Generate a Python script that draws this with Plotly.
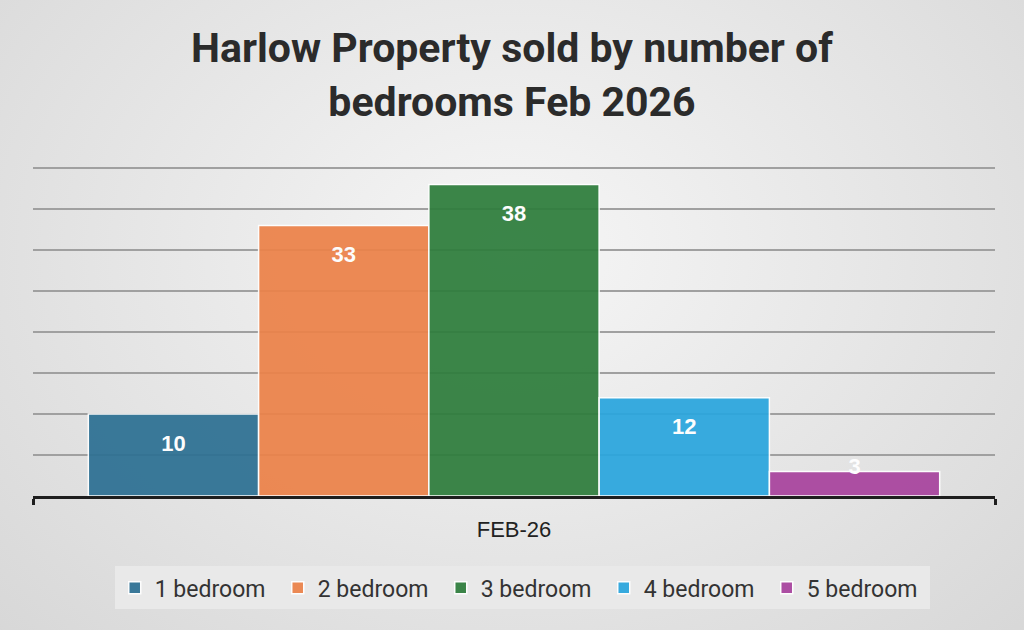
import plotly.graph_objects as go

month = ["FEB-26"]
bedrooms = ["1 bedroom", "2 bedroom", "3 bedroom", "4 bedroom", "5 bedroom"]
sold = [10, 33, 38, 12, 3]
colours = ["#2D7093", "#EC8249", "#2E7D3C", "#2AA6DE", "#A8439E"]

sans = "Roboto, Liberation Sans, Arial, sans-serif"
num = "<span style='font-size:22px'>%d</span>"

fig = go.Figure()

# soft radial backdrop on a full-page helper axis
fig.add_trace(go.Scatter(
    x=[-0.3, 1.3, 1.3, -0.3, -0.3], y=[-0.4, -0.4, 1.6, 1.6, -0.4],
    fill="toself", mode="none", hoverinfo="skip", showlegend=False,
    fillgradient=dict(type="radial", colorscale=[[0, "#f6f6f6"], [1, "#d3d3d3"]]),
    xaxis="x", yaxis="y",
))

for name, val, col in zip(bedrooms, sold, colours):
    small = val < 5
    # a spacer line pushes the number away from the bar end, like Excel's inside-end labels
    label = (num % val + "<br>\u00a0") if small else ("\u00a0<br>" + num % val)
    fig.add_trace(go.Bar(
        x=month, y=[val], name=name,
        marker=dict(color=col, line=dict(color="white", width=1.5)),
        opacity=0.93,
        text=[label],
        textposition="inside",
        insidetextanchor="start" if small else "end",
        textangle=0,
        constraintext="none",
        cliponaxis=False,
        textfont=dict(family="Liberation Sans, Arial, sans-serif", size=12 if small else 15,
                      color="white", weight="bold"),
        xaxis="x2", yaxis="y2",
    ))

fig.update_layout(
    width=1024, height=630,
    margin=dict(l=0, r=0, t=0, b=0),
    paper_bgcolor="#e2e2e2",
    plot_bgcolor="rgba(0,0,0,0)",
    barmode="group", bargap=0.115, bargroupgap=0,
    title=dict(text="Harlow Property sold by number of<br>bedrooms Feb 2026",
               x=0.5, xanchor="center", y=0.901, yanchor="top",
               font=dict(family=sans, size=41, color="#2b2b2b", weight="bold")),
    xaxis=dict(domain=[0, 1], range=[0, 1], visible=False, fixedrange=True),
    yaxis=dict(domain=[0, 1], range=[0, 1], visible=False, fixedrange=True),
    xaxis2=dict(domain=[33 / 1024, 995 / 1024], anchor="y2",
                showline=True, linecolor="#1e1e1e", linewidth=3,
                ticks="outside", tickson="boundaries", ticklen=6, tickwidth=3, tickcolor="#1e1e1e",
                ticklabelstandoff=12,
                tickfont=dict(family="Liberation Sans, Arial, sans-serif", size=22, color="#222")),
    yaxis2=dict(domain=[134 / 630, 463.5 / 630], anchor="x2", range=[0, 40.2], dtick=5,
                showticklabels=False, zeroline=False,
                gridcolor="#a0a0a0", gridwidth=1.5),
    legend=dict(orientation="h", x=0.51, xanchor="center", y=0.067, yanchor="middle",
                bgcolor="#e9e9e9", borderwidth=0,
                entrywidth=118, entrywidthmode="pixels",
                font=dict(family=sans, size=23, color="#333")),
    showlegend=True,
)

fig.write_html("out.html", config={"displayModeBar": False},
               post_script="document.body.style.margin='0';")
